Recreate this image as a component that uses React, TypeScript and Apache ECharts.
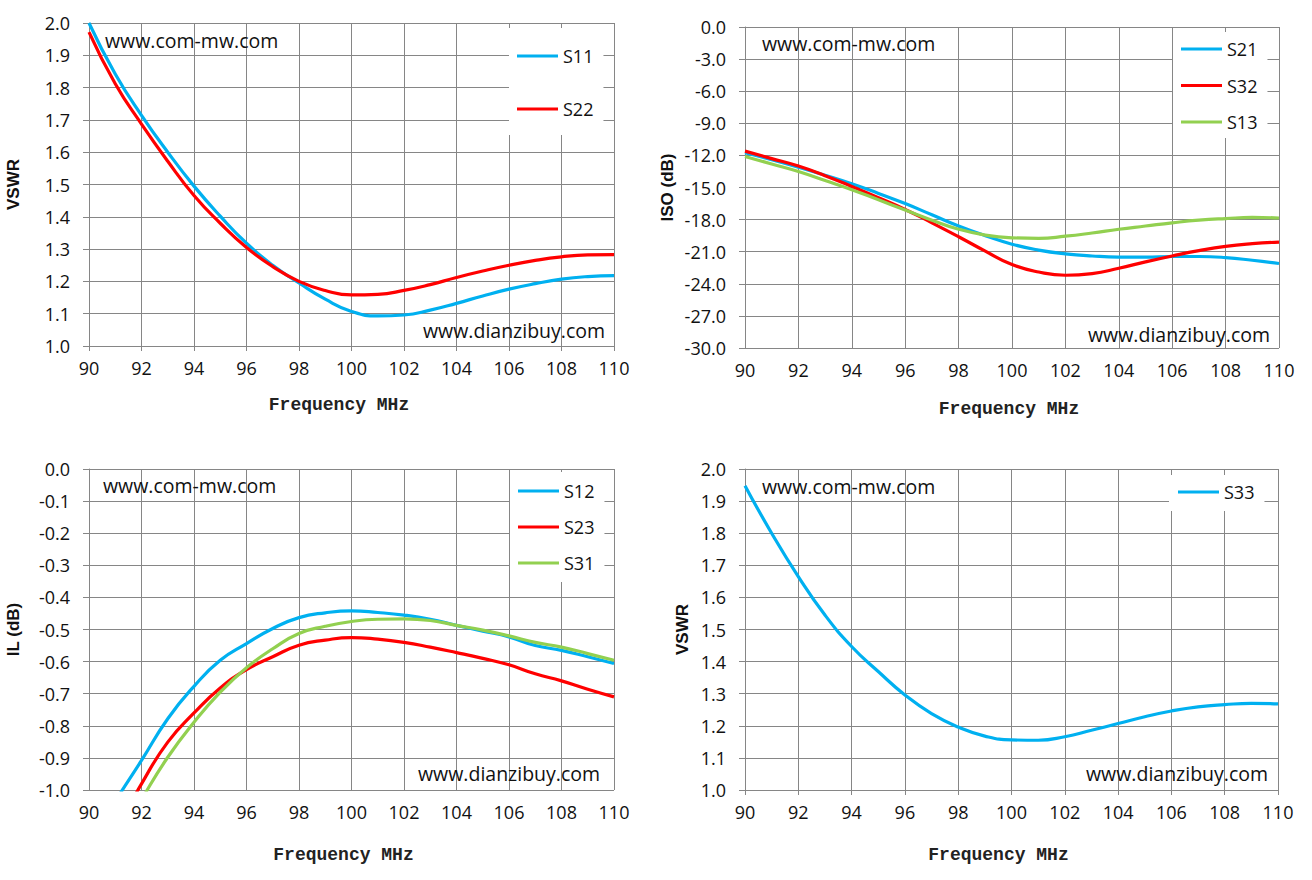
import React, { useEffect, useRef } from "react";
import * as echarts from "echarts";

// Frequency points (MHz)
const freq = [90, 91, 92, 93, 94, 95, 96, 97, 98, 99, 100, 101, 102, 103, 104, 105, 106, 107, 108, 109, 110];
const xTicks = { min: 90, max: 110, interval: 2 };

// Top-left: VSWR
const s11 = [2.0, 1.842, 1.714, 1.6, 1.495, 1.402, 1.318, 1.25, 1.195, 1.145, 1.107, 1.093, 1.096, 1.111, 1.132, 1.155, 1.176, 1.193, 1.207, 1.215, 1.218];
const s22 = [1.972, 1.812, 1.687, 1.572, 1.466, 1.38, 1.305, 1.246, 1.2, 1.172, 1.158, 1.16, 1.172, 1.19, 1.212, 1.232, 1.25, 1.265, 1.276, 1.282, 1.283];

// Top-right: ISO (dB)
const s21 = [-11.75, -12.4, -13.1, -13.85, -14.65, -15.55, -16.5, -17.55, -18.6, -19.5, -20.3, -20.85, -21.2, -21.4, -21.5, -21.5, -21.45, -21.45, -21.55, -21.8, -22.1];
const s32 = [-11.6, -12.3, -13.0, -13.9, -14.9, -15.95, -17.05, -18.3, -19.6, -20.95, -22.2, -22.9, -23.2, -23.05, -22.55, -21.95, -21.4, -20.9, -20.5, -20.25, -20.1];
const s13 = [-12.1, -12.8, -13.5, -14.35, -15.2, -16.15, -17.1, -18.05, -18.9, -19.45, -19.7, -19.75, -19.55, -19.25, -18.9, -18.6, -18.3, -18.05, -17.9, -17.8, -17.85];

// Bottom-left: IL (dB)
const s12 = [-1.17, -1.035, -0.908, -0.778, -0.677, -0.596, -0.544, -0.497, -0.463, -0.448, -0.442, -0.447, -0.455, -0.468, -0.487, -0.505, -0.523, -0.55, -0.565, -0.585, -0.606];
const s23 = [-1.29, -1.13, -0.981, -0.851, -0.76, -0.682, -0.625, -0.585, -0.549, -0.533, -0.525, -0.53, -0.54, -0.555, -0.572, -0.59, -0.61, -0.638, -0.66, -0.686, -0.71];
const s31 = [-1.32, -1.17, -1.03, -0.898, -0.789, -0.695, -0.619, -0.56, -0.5125, -0.49, -0.475, -0.468, -0.467, -0.472, -0.487, -0.502, -0.52, -0.54, -0.555, -0.575, -0.596];

// Bottom-right: VSWR
const s33 = [1.948, 1.8, 1.665, 1.545, 1.447, 1.369, 1.296, 1.238, 1.196, 1.168, 1.156, 1.155, 1.166, 1.186, 1.207, 1.228, 1.246, 1.259, 1.266, 1.27, 1.268];

const BLUE = "#00B0F0";
const RED = "#FF0000";
const GREEN = "#92D050";
const GRID = "#868686";
const FONT = "Open Sans";

const pairs = (ys: number[]) => freq.map((f, i) => [f, ys[i]]);

export default function App() {
  const ref = useRef<HTMLDivElement>(null);
  useEffect(() => {
    if (!ref.current) return;
    const chart = echarts.init(ref.current, null, { renderer: "svg" });

    const grids = [
      { left: 89, top: 23, width: 525, height: 323 },
      { left: 745, top: 27, width: 534, height: 321 },
      { left: 89, top: 469, width: 525, height: 321 },
      { left: 745, top: 469, width: 533, height: 321 },
    ];
    const xNameGap = [50, 52, 56, 56];
    const xNamePad = [
      [0, 25, 0, 0],
      [0, 6, 0, 0],
      [0, 16, 0, 0],
      [0, 26, 0, 0],
    ];
    const xAxes = grids.map((_, i) => ({
      type: "value",
      gridIndex: i,
      ...xTicks,
      name: "Frequency MHz",
      nameLocation: "middle",
      nameGap: xNameGap[i],
      nameTextStyle: {
        fontFamily: "'Liberation Mono', 'Courier New', monospace",
        fontWeight: "bold",
        fontSize: 18,
        color: "#222",
        padding: xNamePad[i],
      },
      axisLine: { show: true, lineStyle: { color: GRID, width: 1 } },
      axisTick: { show: true, length: 5, lineStyle: { color: GRID } },
      axisLabel: { margin: 13, fontFamily: FONT, fontSize: 18, color: "#111" },
      splitLine: { show: true, lineStyle: { color: GRID, width: 1 } },
    }));
    const yDefs = [
      { name: "VSWR", min: 1, max: 2, interval: 0.1, gap: 67 },
      { name: "ISO (dB)", min: -30, max: 0, interval: 3, gap: 69 },
      { name: "IL (dB)", min: -1, max: 0, interval: 0.1, gap: 67 },
      { name: "VSWR", min: 1, max: 2, interval: 0.1, gap: 54 },
    ];
    const yAxes = yDefs.map((d, i) => ({
      type: "value",
      gridIndex: i,
      min: d.min,
      max: d.max,
      interval: d.interval,
      name: d.name,
      nameLocation: "middle",
      nameGap: d.gap,
      nameTextStyle: { fontFamily: "Liberation Sans", fontWeight: "bold", fontSize: 17, color: "#111" },
      axisLine: { show: true, lineStyle: { color: GRID, width: 1 } },
      axisTick: { show: true, length: 6, lineStyle: { color: GRID } },
      axisLabel: {
        margin: 19,
        fontFamily: FONT,
        fontSize: 18,
        color: "#111",
        formatter: (v: number) => (Math.abs(v) < 1e-9 ? "0.0" : v.toFixed(1)),
      },
      splitLine: { show: true, lineStyle: { color: GRID, width: 1 } },
    }));

    const mk = (name: string, data: number[], color: string, idx: number) => ({
      type: "line",
      name,
      xAxisIndex: idx,
      yAxisIndex: idx,
      data: pairs(data),
      smooth: 0.5,
      showSymbol: false,
      symbol: "none",
      clip: true,
      lineStyle: { color, width: 3.2 },
      itemStyle: { color },
      z: 3,
    });

    const series = [
      mk("S11", s11, BLUE, 0),
      mk("S22", s22, RED, 0),
      mk("S21", s21, BLUE, 1),
      mk("S32", s32, RED, 1),
      mk("S13", s13, GREEN, 1),
      mk("S12", s12, BLUE, 2),
      mk("S23", s23, RED, 2),
      mk("S31", s31, GREEN, 2),
      mk("S33", s33, BLUE, 3),
    ];

    const legendBase = {
      orient: "vertical",
      backgroundColor: "#ffffff",
      icon: "rect",
      itemWidth: 41,
      itemHeight: 3,
      textStyle: { fontFamily: FONT, fontSize: 18, color: "#111", lineHeight: 20 },
      selectedMode: false,
    };
    const legends = [
      { ...legendBase, data: ["S11", "S22"], left: 509, top: 28, itemGap: 33, padding: [18, 10, 16, 8] },
      { ...legendBase, data: ["S21", "S32", "S13"], left: 1173, top: 32, itemGap: 16.5, padding: [7, 10, 6, 8] },
      { ...legendBase, data: ["S12", "S23", "S31"], left: 510, top: 472, itemGap: 16, padding: [9, 10, 9, 8] },
      { ...legendBase, data: ["S33"], left: 1169, top: 475, itemGap: 10, padding: [7, 10, 9, 9] },
    ];

    const wm = (text: string, x: number, y: number) => ({
      type: "text",
      x,
      y,
      z: 10,
      style: { text, fontFamily: FONT, fontSize: 19.5, fill: "#111", verticalAlign: "middle", align: "left" },
    });

    chart.setOption({
      animation: false,
      backgroundColor: "#ffffff",
      grid: grids,
      xAxis: xAxes,
      yAxis: yAxes,
      legend: legends,
      series,
      graphic: [
        wm("www.com-mw.com", 105, 40),
        wm("www.dianzibuy.com", 423, 330),
        wm("www.com-mw.com", 762, 43),
        wm("www.dianzibuy.com", 1088, 334),
        wm("www.com-mw.com", 103, 485),
        wm("www.dianzibuy.com", 418, 773),
        wm("www.com-mw.com", 762, 486),
        wm("www.dianzibuy.com", 1086, 773),
      ],
    });
    return () => chart.dispose();
  }, []);
  return <div ref={ref} style={{ position: "absolute", left: 0, top: 0, width: 1312, height: 880 }} />;
}
